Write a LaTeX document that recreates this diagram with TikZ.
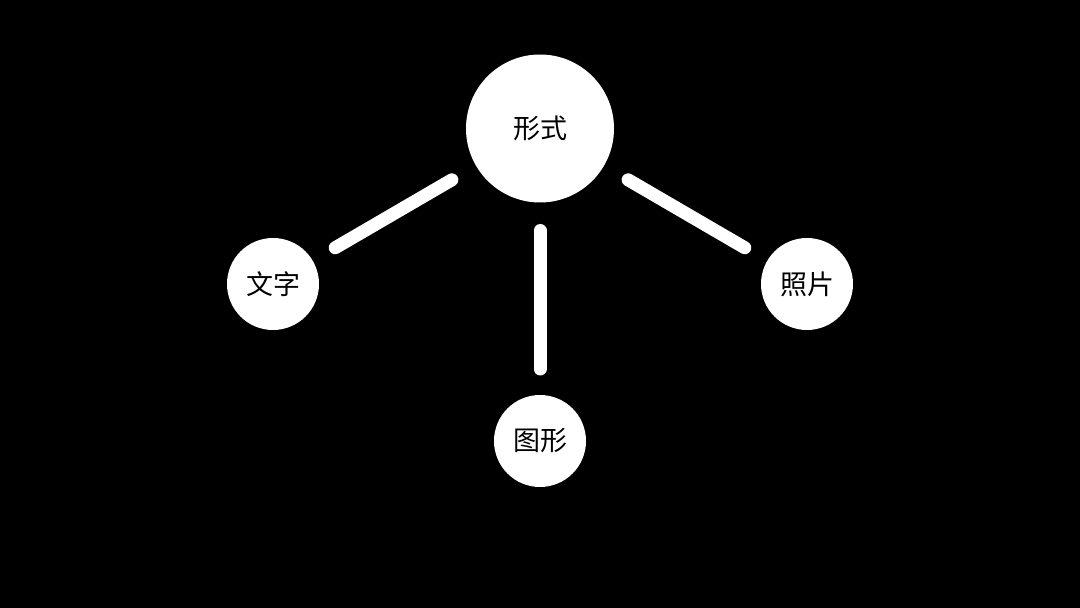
\documentclass[tikz,border=0pt]{standalone}
\usepackage{fontspec}
\setmainfont{Noto Sans CJK SC}

\begin{document}
\begin{tikzpicture}[
  x=1pt, y=1pt,
  font=\fontsize{27}{30}\selectfont,
  bubble/.style={circle, fill=white, draw=none, inner sep=0pt,
                 outer sep=0pt, minimum size=#1, text=black},
  link/.style={draw=white, line width=13pt, line cap=round,
               shorten <=28pt, shorten >=26pt},
]
%% ---------- Canvas ----------------------------------------------
\fill[black] (0,0) rectangle (1080,608);
\useasboundingbox (0,0) rectangle (1080,608);

%% ---------- Centre ----------------------------------------------
\node[bubble=148pt] (form) at (540,479.5) {形式};

%% ---------- Leaves ----------------------------------------------
\node[bubble=92pt] (text)  at (273,324) {文字};
\node[bubble=92pt] (shape) at (540,167) {图形};
\node[bubble=92pt] (photo) at (807,324) {照片};

%% ---- Links -----------------------------------------------------
\draw[link] (form) -- (text);
\draw[link] (form) -- (shape);
\draw[link] (form) -- (photo);
\end{tikzpicture}
\end{document}
